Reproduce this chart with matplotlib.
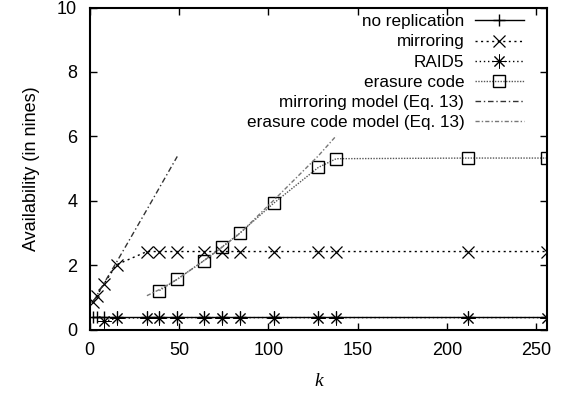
import matplotlib
matplotlib.use("Agg")
import matplotlib.pyplot as plt

plt.rcParams['font.family'] = ['Liberation Sans', 'DejaVu Sans']

# data
k_norep = [2, 4, 8, 15, 32, 39, 49, 64, 74, 84, 103, 128, 138, 212, 256]
y_norep = [0.40] * len(k_norep)

k_mirror = [2, 4, 8, 15, 32, 39, 49, 64, 74, 84, 103, 128, 138, 212, 256]
y_mirror = [0.88, 1.06, 1.43, 2.02, 2.43, 2.43, 2.43, 2.43, 2.43, 2.43, 2.43, 2.43, 2.43, 2.43, 2.43]

k_raid5 = [8, 15, 32, 39, 49, 64, 74, 84, 103, 128, 138, 212, 256]
y_raid5 = [0.26, 0.36, 0.38, 0.38, 0.38, 0.38, 0.38, 0.38, 0.38, 0.38, 0.38, 0.38, 0.38]

k_erasure = [39, 49, 64, 74, 84, 103, 128, 138, 212, 256]
y_erasure = [1.22, 1.57, 2.15, 2.57, 3.00, 3.93, 5.04, 5.31, 5.33, 5.33]

k_mirror_model = [2, 4, 8, 15, 32, 39, 49]
y_mirror_model = [0.88, 1.07, 1.45, 2.10, 3.73, 4.41, 5.38]

k_erasure_model = [32, 39, 49, 64, 74, 84, 103, 128, 138]
y_erasure_model = [1.06, 1.25, 1.57, 2.15, 2.56, 2.99, 4.02, 5.40, 6.02]

x_ticks = [0, 50, 100, 150, 200, 250]
y_ticks = [0, 2, 4, 6, 8, 10]

fig = plt.figure(figsize=(5.68, 3.96), dpi=100)
ax = fig.add_axes([0.158, 0.167, 0.805, 0.814])

ax.plot(k_norep, y_norep, color='black', lw=1.0, ls='-', marker='+', ms=9, mew=1.0,
        label='no replication')
ax.plot(k_mirror, y_mirror, color='black', lw=1.0, ls=(0, (1.5, 2.5)), marker='x', ms=8, mew=0.9,
        label='mirroring')
ax.plot(k_raid5, y_raid5, color='black', lw=1.0, ls=(0, (1, 2)), marker=(8, 2, 0), ms=10, mew=0.7,
        label='RAID5')
ax.plot(k_erasure, y_erasure, color='#555555', lw=1.0, ls=(0, (1, 1)), marker='s', ms=8, mew=1.0,
        mfc='none', mec='black', label='erasure code')
ax.plot(k_mirror_model, y_mirror_model, color='#333333', lw=1.0, ls=(0, (4, 2, 1, 2)),
        label='mirroring model (Eq. 13)')
ax.plot(k_erasure_model, y_erasure_model, color='#777777', lw=1.0, ls=(0, (3, 1.5, 1, 1.5)),
        label='erasure code model (Eq. 13)')

ax.set_xlim(0, 256)
ax.set_ylim(0, 10)
ax.set_xticks(x_ticks)
ax.set_yticks(y_ticks)
ax.tick_params(direction='in', top=True, right=True, length=5, width=1.0, labelsize=13, pad=9)
for s in ax.spines.values():
    s.set_linewidth(1.5)

ax.set_ylabel('Availability (in nines)', fontsize=13, labelpad=12)
ax.set_xlabel('k', fontsize=14, family='Liberation Serif', style='italic', labelpad=10)

leg = ax.legend(loc='upper right', frameon=False, markerfirst=False, fontsize=12.3,
                handlelength=2.9, handletextpad=0.6, labelspacing=0.3,
                borderaxespad=0.0, bbox_to_anchor=(0.965, 1.0))
for t in leg.get_texts():
    t.set_ha('right')
leg._legend_box.align = 'right'

fig.savefig('out.png', dpi=100)
